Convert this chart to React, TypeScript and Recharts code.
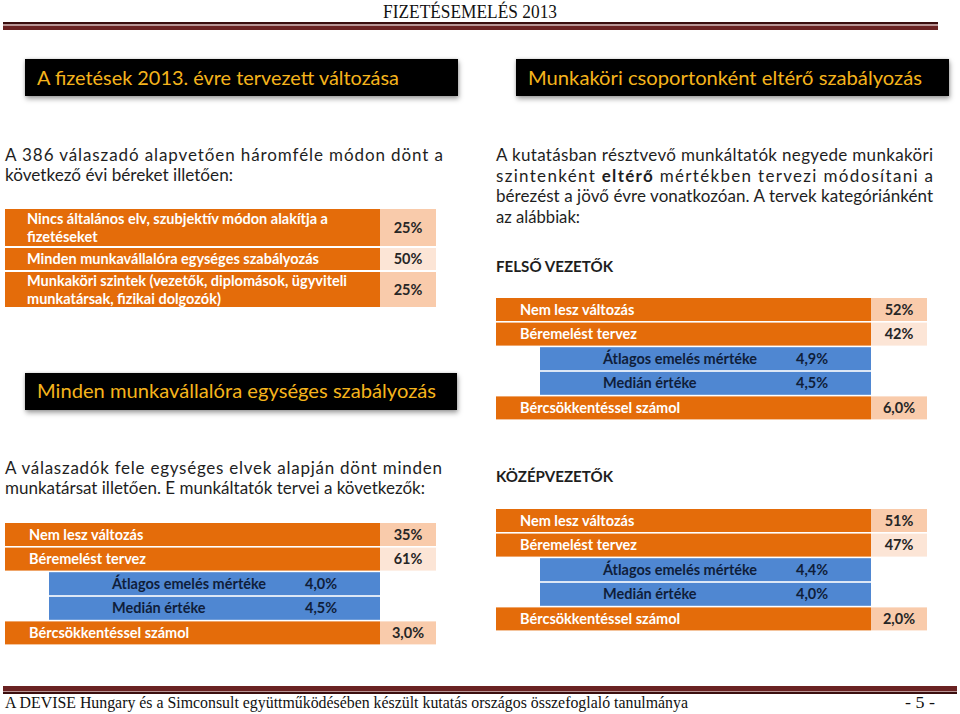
import React from 'react';
import { BarChart, Bar, XAxis, YAxis, LabelList } from 'recharts';

// ---------- texts ----------
const pageTitle = 'FIZETÉSEMELÉS 2013';
const leftHeader = 'A fizetések 2013. évre tervezett változása';
const rightHeader = 'Munkaköri csoportonként eltérő szabályozás';
const uniformHeader = 'Minden munkavállalóra egységes szabályozás';
const footerText = 'A DEVISE Hungary és a Simconsult együttműködésében készült kutatás országos összefoglaló tanulmánya';
const pageNumber = '- 5 -';

// ---------- table 1: decision methods ----------
const methodLabels = [
  ['Nincs általános elv, szubjektív módon alakítja a', 'fizetéseket'],
  ['Minden munkavállalóra egységes szabályozás'],
  ['Munkaköri szintek (vezetők, diplomások, ügyviteli', 'munkatársak, fizikai dolgozók)'],
];
const methodShares = [25, 50, 25];

// ---------- plan tables ----------
const planLabels = [
  'Nem lesz változás',
  'Béremelést tervez',
  'Átlagos emelés mértéke',
  'Medián értéke',
  'Bércsökkentéssel számol',
];
const planIsSubRow = [false, false, true, true, false];
const planDecimals = [0, 0, 1, 1, 1];
const uniformPlanValues = [35, 61, 4.0, 4.5, 3.0];
const seniorPlanValues = [52, 42, 4.9, 4.5, 6.0];
const middlePlanValues = [51, 47, 4.4, 4.0, 2.0];

// ---------- styles ----------
const ORANGE = '#e46c0a';
const PEACH = '#f9cbab';
const PEACH_LIGHT = '#fce5d6';
const BLUE = '#4f87d2';
const NAVY = '#0f1e3a';
const GOLD = '#f5b41c';
const TEXT = '#1e1e1e';
const MAROON = '#6a2222';
const FONT = 'Lato, "Open Sans", sans-serif';

type Row = { name: string; lines: string[]; value: number; sub: boolean; decimals: number };

const fmt = (v: number, d: number) => v.toFixed(d).replace('.', ',') + '%';

function buildPlanRows(values: number[]): Row[] {
  return planLabels.map((l, i) => ({
    name: l,
    lines: [l],
    value: values[i],
    sub: planIsSubRow[i],
    decimals: planDecimals[i],
  }));
}

const VALUE_W = 56;
const INDENT = 44;

function RowTable({ rows, width, height, labelInset = 24, indexOffset = 0 }: { rows: Row[]; width: number; height: number; labelInset?: number; indexOffset?: number }) {
  const mainW = width - VALUE_W;
  const renderBg = (p: any) => {
    const { x, y, width: w, height: h, index } = p;
    const row = rows[index];
    const mw = w - VALUE_W;
    if (row.sub) {
      return <rect key={`bg-${index}`} x={x + INDENT} y={y} width={mw - INDENT} height={h} fill={BLUE} />;
    }
    const n = index + indexOffset;
    return (
      <g key={`bg-${index}`}>
        <rect x={x} y={y} width={mw} height={h} fill={ORANGE} />
        <rect x={x + mw} y={y} width={VALUE_W} height={h} fill={n % 2 === 0 ? PEACH : PEACH_LIGHT} />
      </g>
    );
  };
  const box = (p: any) => {
    const vb = p.viewBox && p.viewBox.y !== undefined ? p.viewBox : p;
    return { x: Number(vb.x), y: Number(vb.y), h: Number(vb.height) };
  };
  const renderLabel = (p: any) => {
    const { x, y, h } = box(p);
    const row = rows[p.index];
    if (!row) return null;
    const cy = y + h / 2;
    const lh = 18;
    const n = row.lines.length;
    return (
      <g key={`lbl-${p.index}`}>
        {row.lines.map((ln, k) => (
          <text
            key={k}
            x={x + (row.sub ? 107 : labelInset)}
            y={cy + (k - (n - 1) / 2) * lh + 5}
            fill={row.sub ? NAVY : '#ffffff'}
            fontFamily={FONT}
            fontWeight={700}
            fontSize={14.5}
          >
            {ln}
          </text>
        ))}
      </g>
    );
  };
  const renderValue = (p: any) => {
    const { x, y, h } = box(p);
    const row = rows[p.index];
    if (!row) return null;
    const cy = y + h / 2 + 5;
    return (
      <text
        key={`val-${p.index}`}
        x={row.sub ? x + 300 : x + mainW + VALUE_W / 2}
        y={cy}
        textAnchor={row.sub ? 'start' : 'middle'}
        fill={row.sub ? NAVY : '#262626'}
        fontFamily={FONT}
        fontWeight={700}
        fontSize={14.5}
      >
        {fmt(row.value, row.decimals)}
      </text>
    );
  };
  return (
    <BarChart
      width={width}
      height={height}
      data={rows}
      layout="vertical"
      margin={{ top: 0, right: 0, bottom: 0, left: 0 }}
      barCategoryGap={1}
    >
      <XAxis type="number" hide domain={[0, 100]} />
      <YAxis type="category" dataKey="name" hide />
      <Bar dataKey="value" fill="transparent" background={renderBg} isAnimationActive={false}>
        <LabelList dataKey="name" content={renderLabel} />
        <LabelList dataKey="value" content={renderValue} />
      </Bar>
    </BarChart>
  );
}

function HeaderBox({ left, top, width, height }: { left: number; top: number; width: number; height: number }) {
  return (
    <div
      style={{
        position: 'absolute',
        left,
        top,
        width,
        height,
        background: '#000',
        boxShadow: '1px 3px 5px rgba(0,0,0,0.35), 0 0 3px rgba(0,0,0,0.18)',
      }}
    />
  );
}

function Band({ left, top, width, height, color }: { left: number; top: number; width: number; height: number; color: string }) {
  return <div style={{ position: 'absolute', left, top, width, height, background: color }} />;
}

function Line({ x, y, text, w, weight = 400, size = 17, justify = false }: { x: number; y: number; text: React.ReactNode; w?: number; weight?: number; size?: number; justify?: boolean }) {
  return (
    <text
      x={x}
      y={y}
      fontFamily={FONT}
      fontSize={size}
      fontWeight={weight}
      fill={TEXT}
      textLength={w}
      lengthAdjust={justify ? 'spacing' : 'spacingAndGlyphs'}
    >
      {text}
    </text>
  );
}

export default function App() {
  const methodRows: Row[] = methodLabels.map((ls, i) => ({
    name: ls.join(' '),
    lines: ls,
    value: methodShares[i],
    sub: false,
    decimals: 0,
  }));
  const methodRowHeights = [39, 24, 37];
  let acc = 208;
  const methodTops = methodRowHeights.map((h) => {
    const t = acc;
    acc += h;
    return t;
  });

  return (
    <div
      style={{
        position: 'absolute',
        left: 0,
        top: 0,
        width: 960,
        height: 714,
        background: '#fff',
        overflow: 'hidden',
      }}
    >
      <HeaderBox left={25} top={59} width={433} height={37} />
      <HeaderBox left={516} top={59} width={433} height={37} />
      <HeaderBox left={25} top={373} width={432} height={37} />

      {/* header rule */}
      <Band left={3} top={22} width={935} height={2} color="#3a0e0e" />
      <Band left={3} top={24} width={935} height={2} color="#b89595" />
      <Band left={3} top={26} width={935} height={4} color={MAROON} />

      {/* footer rule */}
      <Band left={3} top={686} width={954} height={5} color={MAROON} />
      <Band left={3} top={691} width={954} height={1} color="#b89595" />
      <Band left={3} top={692} width={954} height={2} color="#3a0e0e" />

      <svg width={960} height={714} style={{ position: 'absolute', left: 0, top: 0 }}>
        {/* page header */}
        <text x={383} y={18} fontFamily='"Liberation Serif", serif' fontSize={19} fill="#111" textLength={174} lengthAdjust="spacingAndGlyphs">
          {pageTitle}
        </text>

        {/* header boxes text */}
        <text x={37} y={85} fontFamily={FONT} fontSize={19} fill={GOLD} textLength={362} lengthAdjust="spacingAndGlyphs">
          {leftHeader}
        </text>
        <text x={528} y={85} fontFamily={FONT} fontSize={19} fill={GOLD} textLength={394} lengthAdjust="spacingAndGlyphs">
          {rightHeader}
        </text>
        <text x={37} y={398} fontFamily={FONT} fontSize={19} fill={GOLD} textLength={399} lengthAdjust="spacingAndGlyphs">
          {uniformHeader}
        </text>

        {/* left paragraph */}
        <Line x={5} y={161} text="A 386 válaszadó alapvetően háromféle módon dönt a" w={438} justify />
        <Line x={5} y={181} text="következő évi béreket illetően:" w={228} />

        {/* right paragraph */}
        <Line x={496} y={161} text="A kutatásban résztvevő munkáltatók negyede munkaköri" w={437} justify />
        <Line
          x={496}
          y={181.5}
          text={
            <>
              <tspan>szintenként </tspan>
              <tspan fontWeight={700}>eltérő</tspan>
              <tspan> mértékben tervezi módosítani a</tspan>
            </>
          }
          w={437}
          justify
        />
        <Line x={496} y={202} text="bérezést a jövő évre vonatkozóan. A tervek kategóriánként" w={437} justify />
        <Line x={496} y={222.5} text="az alábbiak:" w={84} />

        <Line x={496} y={272} text="FELSŐ VEZETŐK" w={117} weight={700} size={16} />

        {/* left bottom paragraph */}
        <Line x={5} y={474} text="A válaszadók fele egységes elvek alapján dönt minden" w={437} justify />
        <Line x={5} y={494} text="munkatársat illetően. E munkáltatók tervei a következők:" w={420} />

        <Line x={496} y={482} text="KÖZÉPVEZETŐK" w={117} weight={700} size={16} />

        {/* footer */}
        <text x={5} y={708} fontFamily='"Liberation Serif", serif' fontSize={16.5} fill="#111" textLength={683} lengthAdjust="spacingAndGlyphs">
          {footerText}
        </text>
        <text x={905} y={708} fontFamily='"Liberation Serif", serif' fontSize={16.5} fill="#111" textLength={30} lengthAdjust="spacingAndGlyphs">
          {pageNumber}
        </text>
      </svg>

      {/* table 1 */}
      {methodRows.map((r, i) => (
        <div key={i} style={{ position: 'absolute', left: 5, top: methodTops[i] }}>
          <RowTable rows={[r]} width={431} height={methodRowHeights[i]} labelInset={22} indexOffset={i} />
        </div>
      ))}

      <div style={{ position: 'absolute', left: 496, top: 297 }}>
        <RowTable rows={buildPlanRows(seniorPlanValues)} width={431} height={123} />
      </div>
      <div style={{ position: 'absolute', left: 5, top: 522 }}>
        <RowTable rows={buildPlanRows(uniformPlanValues)} width={431} height={123} />
      </div>
      <div style={{ position: 'absolute', left: 496, top: 508 }}>
        <RowTable rows={buildPlanRows(middlePlanValues)} width={431} height={123} />
      </div>
    </div>
  );
}
